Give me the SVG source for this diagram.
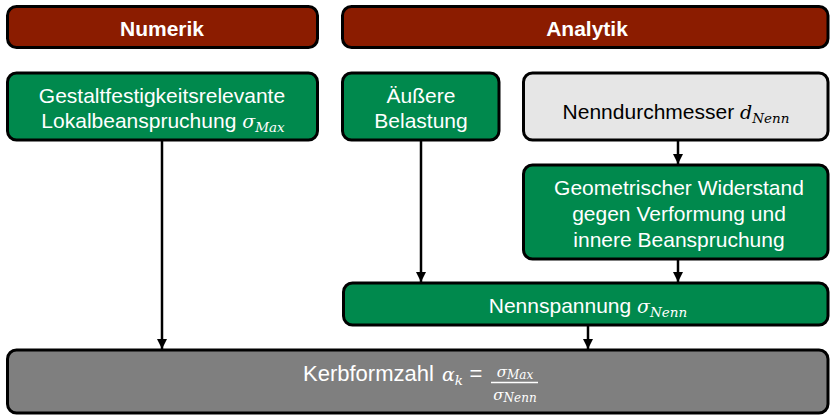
<svg xmlns="http://www.w3.org/2000/svg" width="830" height="417" viewBox="0 0 830 417">
<defs>
<style>
.box{stroke:#000;stroke-width:3}
.red{fill:#8b1c00}
.grn{fill:#00894d}
.lg{fill:#e6e6e6}
.gr{fill:#7f7f7f}
.t{font-family:"Liberation Sans",Arial,sans-serif;font-size:21px;text-anchor:middle}
.h{font-weight:bold}
.w{fill:#fff}
.k{fill:#000}
.m{font-family:"DejaVu Serif","Liberation Serif",serif;font-style:italic;font-size:19px}
.s{font-family:"DejaVu Serif","Liberation Serif",serif;font-style:italic;font-size:13.5px}
.c{stroke:#000;stroke-width:2.5;fill:none}
</style>
<marker id="ah" viewBox="0 0 10 10" refX="10" refY="5" markerWidth="4" markerHeight="4.4" orient="auto" markerUnits="strokeWidth">
<path d="M0,0 L10,5 L0,10 z" fill="#000"/>
</marker>
</defs>
<g id="connectors">
<path class="c" d="M162,140 V349" marker-end="url(#ah)"/>
<path class="c" d="M421,140 V282" marker-end="url(#ah)"/>
<path class="c" d="M678,140 V164" marker-end="url(#ah)"/>
<path class="c" d="M678,259 V282" marker-end="url(#ah)"/>
<path class="c" d="M588,325 V349" marker-end="url(#ah)"/>
</g>
<g id="numerik">
<rect class="box red" x="7.5" y="6.5" width="310" height="41" rx="9"/>
<text class="t h w" x="162" y="36">Numerik</text>
</g>
<g id="analytik">
<rect class="box red" x="342.5" y="6.5" width="485.5" height="41" rx="9"/>
<text class="t h w" x="587" y="36">Analytik</text>
</g>
<g id="lokal">
<rect class="box grn" x="7.5" y="73" width="310" height="67" rx="9"/>
<text class="t w" x="162" y="103">Gestaltfestigkeitsrelevante</text>
<text class="t w" x="163" y="128">Lokalbeanspruchung <tspan class="m">σ</tspan><tspan class="s" dy="4">Max</tspan></text>
</g>
<g id="belastung">
<rect class="box grn" x="342.5" y="73" width="156.5" height="67" rx="9"/>
<text class="t w" x="421" y="103">Äußere</text>
<text class="t w" x="421" y="128">Belastung</text>
</g>
<g id="nenndurchmesser">
<rect class="box lg" x="523.5" y="73" width="304.5" height="67" rx="9"/>
<text class="t k" x="676" y="119">Nenndurchmesser <tspan class="m">d</tspan><tspan class="s" dy="4">Nenn</tspan></text>
</g>
<g id="widerstand">
<rect class="box grn" x="523.5" y="165" width="304.5" height="94" rx="9"/>
<text class="t w" x="679" y="195">Geometrischer Widerstand</text>
<text class="t w" x="679" y="221">gegen Verformung und</text>
<text class="t w" x="679" y="247">innere Beanspruchung</text>
</g>
<g id="nennspannung">
<rect class="box grn" x="343.5" y="283" width="484.5" height="42" rx="9"/>
<text class="t w" x="588" y="313">Nennspannung <tspan class="m">σ</tspan><tspan class="s" dy="4">Nenn</tspan></text>
</g>
<g id="kerbformzahl">
<rect class="box gr" x="7.5" y="350" width="820.5" height="63" rx="9"/>
<text class="t w" x="303" y="381" style="text-anchor:start;font-size:22px">Kerbformzahl</text>
<text class="w" x="442" y="381"><tspan class="m">α</tspan><tspan class="s" dy="4">k</tspan></text>
<text class="t w" x="476" y="381" style="font-size:22px">=</text>
<text class="w" x="515" y="377" text-anchor="middle"><tspan class="m" style="font-size:15px">σ</tspan><tspan class="s" style="font-size:12px" dy="2">Max</tspan></text>
<line x1="491" y1="382.5" x2="538" y2="382.5" stroke="#fff" stroke-width="1.5"/>
<text class="w" x="515" y="400" text-anchor="middle"><tspan class="m" style="font-size:15px">σ</tspan><tspan class="s" style="font-size:12px" dy="2">Nenn</tspan></text>
</g>
</svg>
